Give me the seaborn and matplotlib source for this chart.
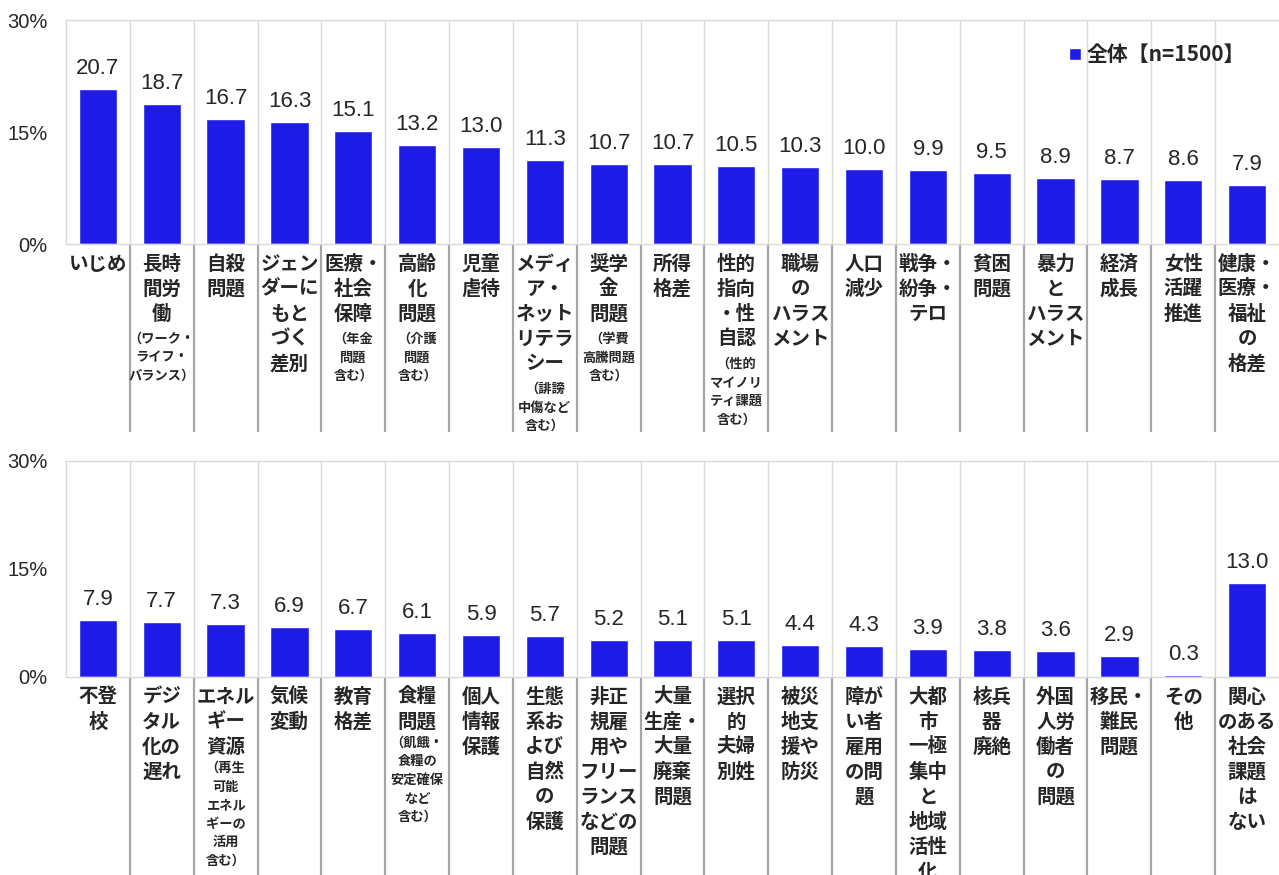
import matplotlib
matplotlib.use("Agg")
import matplotlib.pyplot as plt
import seaborn as sns

# データ（上段）
cats_top = ["いじめ", "長時間労働", "自殺問題", "ジェンダーにもとづく差別", "医療・社会保障",
            "高齢化問題", "児童虐待", "メディア・ネットリテラシー", "奨学金問題", "所得格差",
            "性的指向・性自認", "職場のハラスメント", "人口減少", "戦争・紛争・テロ", "貧困問題",
            "暴力とハラスメント", "経済成長", "女性活躍推進", "健康・医療・福祉の格差"]
vals_top = [20.7, 18.7, 16.7, 16.3, 15.1, 13.2, 13.0, 11.3, 10.7, 10.7,
            10.5, 10.3, 10.0, 9.9, 9.5, 8.9, 8.7, 8.6, 7.9]
main_top = [["いじめ"], ["長時", "間労", "働"], ["自殺", "問題"], ["ジェン", "ダーに", "もと", "づく", "差別"],
            ["医療・", "社会", "保障"], ["高齢", "化", "問題"], ["児童", "虐待"],
            ["メディ", "ア・", "ネット", "リテラ", "シー"], ["奨学", "金", "問題"], ["所得", "格差"],
            ["性的", "指向", "・性", "自認"], ["職場", "の", "ハラス", "メント"], ["人口", "減少"],
            ["戦争・", "紛争・", "テロ"], ["貧困", "問題"], ["暴力", "と", "ハラス", "メント"],
            ["経済", "成長"], ["女性", "活躍", "推進"], ["健康・", "医療・", "福祉", "の", "格差"]]
sub_top = [[], ["（ワーク・", "ライフ・", "バランス）"], [], [], ["（年金", "問題", "含む）"],
           ["（介護", "問題", "含む）"], [], ["（誹謗", "中傷など", "含む）"], ["（学費", "高騰問題", "含む）"], [],
           ["（性的", "マイノリ", "ティ課題", "含む）"], [], [], [], [], [], [], [], []]

# データ（下段）
cats_bot = ["不登校", "デジタル化の遅れ", "エネルギー資源", "気候変動", "教育格差", "食糧問題",
            "個人情報保護", "生態系および自然の保護", "非正規雇用やフリーランスなどの問題",
            "大量生産・大量廃棄問題", "選択的夫婦別姓", "被災地支援や防災", "障がい者雇用の問題",
            "大都市一極集中と地域活性化", "核兵器廃絶", "外国人労働者の問題", "移民・難民問題",
            "その他", "関心のある社会課題はない"]
vals_bot = [7.9, 7.7, 7.3, 6.9, 6.7, 6.1, 5.9, 5.7, 5.2, 5.1,
            5.1, 4.4, 4.3, 3.9, 3.8, 3.6, 2.9, 0.3, 13.0]
main_bot = [["不登", "校"], ["デジ", "タル", "化の", "遅れ"], ["エネル", "ギー", "資源"], ["気候", "変動"],
            ["教育", "格差"], ["食糧", "問題"], ["個人", "情報", "保護"],
            ["生態", "系お", "よび", "自然", "の", "保護"],
            ["非正", "規雇", "用や", "フリー", "ランス", "などの", "問題"],
            ["大量", "生産・", "大量", "廃棄", "問題"], ["選択", "的", "夫婦", "別姓"],
            ["被災", "地支", "援や", "防災"], ["障が", "い者", "雇用", "の問", "題"],
            ["大都", "市", "一極", "集中", "と", "地域", "活性", "化"], ["核兵", "器", "廃絶"],
            ["外国", "人労", "働者", "の", "問題"], ["移民・", "難民", "問題"], ["その", "他"],
            ["関心", "のある", "社会", "課題", "は", "ない"]]
sub_bot = [[], [], ["（再生", "可能", "エネル", "ギーの", "活用", "含む）"], [], [],
           ["（飢餓・", "食糧の", "安定確保", "など", "含む）"], [], [], [], [], [], [], [], [], [], [], [], [], []]

series_name = "全体【n=1500】"
yticks = [0, 15, 30]

BAR = "#1e1be8"
GRID = "#d9d9d9"
SEP = "#a6a6a6"
PX = 0.72  # px -> pt (dpi 100)

sns.set_style("white")
plt.rcParams["font.family"] = ["Noto Sans CJK JP", "DejaVu Sans"]

fig = plt.figure(figsize=(12.79, 8.75), dpi=100)
ax1 = fig.add_axes([66 / 1279, (875 - 244) / 875, 1213 / 1279, 224 / 875])
ax2 = fig.add_axes([66 / 1279, (875 - 677) / 875, 1213 / 1279, 216 / 875])


def draw(ax, cats, vals, mains, subs, sep_end, sub_gap, legend=False):
    sns.barplot(x=cats, y=vals, color=BAR, width=0.6, saturation=1, ax=ax,
                label=series_name if legend else None)
    n = len(cats)
    ax.set_xlim(-0.5, n - 0.5)
    ax.set_ylim(0, 30)
    ax.set_yticks(yticks)
    ax.set_yticklabels([f"{t}%" for t in yticks], family="Liberation Sans", fontsize=14.5)
    ax.tick_params(axis="y", length=6 * PX, width=1, color=GRID, pad=9)
    ax.tick_params(axis="x", length=0, labelbottom=False)
    ax.set_xlabel("")
    ax.set_ylabel("")
    for s in ["left", "top", "bottom"]:
        ax.spines[s].set_color(GRID)
        ax.spines[s].set_linewidth(1)
    ax.spines["right"].set_visible(False)

    bounds = [i + 0.5 for i in range(n - 1)]
    ax.vlines(bounds, 0, 1, transform=ax.get_xaxis_transform(), color=GRID, lw=1, zorder=0)
    ax.vlines(bounds, sep_end, 0, transform=ax.get_xaxis_transform(), color=SEP, lw=1.6,
              clip_on=False)

    for i, v in enumerate(vals):
        ax.annotate(f"{v:.1f}", (i, v), xytext=(0, 15 * PX), textcoords="offset points",
                    ha="center", va="baseline", family="Liberation Sans", fontsize=16)

    for i in range(n):
        y = -20
        for line in mains[i]:
            ax.annotate(line, (i, 0), xytext=(0, y * PX), textcoords="offset points",
                        ha="center", va="center", fontsize=14, fontweight="bold",
                        annotation_clip=False)
            y -= 25
        y += 25 - sub_gap
        for line in subs[i]:
            ax.annotate(line, (i, 0), xytext=(0, y * PX), textcoords="offset points",
                        ha="center", va="center", fontsize=9.5, fontweight="bold",
                        annotation_clip=False)
            y -= 18.5

    if legend:
        ax.legend(loc="center left", bbox_to_anchor=(0.827, 0.844), frameon=False,
                  borderaxespad=0, borderpad=0, handlelength=0.55, handleheight=0.55,
                  handletextpad=0.3, prop={"size": 15, "weight": "bold"})


draw(ax1, cats_top, vals_top, main_top, sub_top, (244 - 432) / 224, 25, legend=True)
draw(ax2, cats_bot, vals_bot, main_bot, sub_bot, -1.0, 21)

fig.savefig("out.png", dpi=100)
